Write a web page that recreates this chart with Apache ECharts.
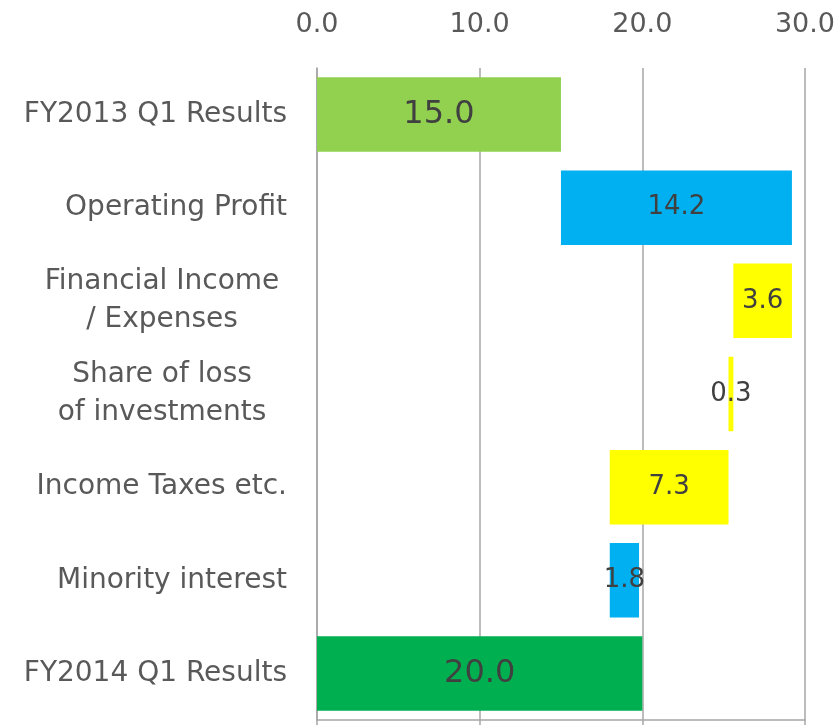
<!DOCTYPE html>
<html lang="en">
<head>
<meta charset="utf-8">
<style>
  html, body { margin: 0; padding: 0; background: #fff; }
  #chart { width: 838px; height: 725px; }
</style>
</head>
<body>
<div id="chart"></div>
<script src="https://cdn.jsdelivr.net/npm/echarts@6/dist/echarts.min.js"></script>
<script>
// categories top to bottom
var categories = ['FY2013 Q1 Results', 'Operating Profit', 'Financial Income\n/ Expenses',
  'Share of loss\nof investments', 'Income Taxes etc.', 'Minority interest', 'FY2014 Q1 Results'];
// bar sizes as printed on the bars
var amounts = [15.0, 14.2, 3.6, 0.3, 7.3, 1.8, 20.0];
// start / up / down / end of the waterfall
var kinds = ['start', 'up', 'down', 'down', 'down', 'up', 'end'];
var ticks = [0, 10, 20, 30];

var kindColor = { start: '#92D050', up: '#00B0F0', down: '#FFFF00', end: '#00B050' };
var font = 'DejaVu Sans';

// work out the invisible base under each floating bar
var bases = [];
var running = 0;
for (var i = 0; i < amounts.length; i++) {
  var k = kinds[i];
  if (k == 'start' || k == 'end') {
    bases.push(0);
    running = amounts[i];
  } else if (k == 'up') {
    bases.push(running);
    running += amounts[i];
  } else {
    running -= amounts[i];
    bases.push(running);
  }
}

var myChart = echarts.init(document.getElementById('chart'), null, { renderer: 'canvas' });

var option = {
  animation: false,
  grid: { left: 317, right: 33, top: 68, bottom: 5 },
  xAxis: [{
    type: 'value',
    position: 'top',
    min: ticks[0],
    max: ticks[ticks.length - 1],
    interval: 10,
    axisLine: { show: false },
    axisTick: { show: false },
    axisLabel: {
      margin: 30,
      fontFamily: font,
      fontSize: 27,
      color: '#595959',
      formatter: function (v) { return v.toFixed(1); }
    },
    splitLine: { lineStyle: { color: '#A6A6A6', width: 1.5 } }
  }, {
    type: 'value',
    position: 'bottom',
    min: ticks[0],
    max: ticks[ticks.length - 1],
    interval: 10,
    axisLine: { show: true, lineStyle: { color: '#A6A6A6', width: 1.5 } },
    axisTick: { show: true, length: 6, lineStyle: { color: '#A6A6A6', width: 1.5 } },
    axisLabel: { show: false },
    splitLine: { show: false }
  }],
  yAxis: {
    type: 'category',
    inverse: true,
    data: categories,
    axisLine: { lineStyle: { color: '#A6A6A6', width: 1.5 } },
    axisTick: { length: 8, lineStyle: { color: '#A6A6A6', width: 1.5 } },
    axisLabel: {
      margin: 30,
      fontFamily: font,
      fontSize: 28,
      color: '#595959',
      formatter: function (v) {
        var lines = v.split('\n');
        if (lines.length == 1) return v;
        return '{m|' + lines.join('}\n{m|') + '}';
      },
      rich: {
        m: { width: 250, align: 'center', lineHeight: 38, fontFamily: font, fontSize: 28, color: '#595959' }
      }
    }
  },
  series: [{
    name: 'base',
    type: 'bar',
    stack: 'w',
    silent: true,
    barCategoryGap: '20%',
    itemStyle: { color: 'transparent' },
    data: bases
  }, {
    name: 'amount',
    type: 'bar',
    stack: 'w',
    barCategoryGap: '20%',
    label: {
      show: true,
      position: 'inside',
      fontFamily: font,
      color: '#404040',
      formatter: function (p) { return p.value.toFixed(1); }
    },
    data: amounts.map(function (a, i) {
      var big = kinds[i] == 'start' || kinds[i] == 'end';
      return {
        value: a,
        itemStyle: { color: kindColor[kinds[i]] },
        label: { fontSize: big ? 32 : 26 }
      };
    })
  }]
};

myChart.setOption(option);
</script>
</body>
</html>
